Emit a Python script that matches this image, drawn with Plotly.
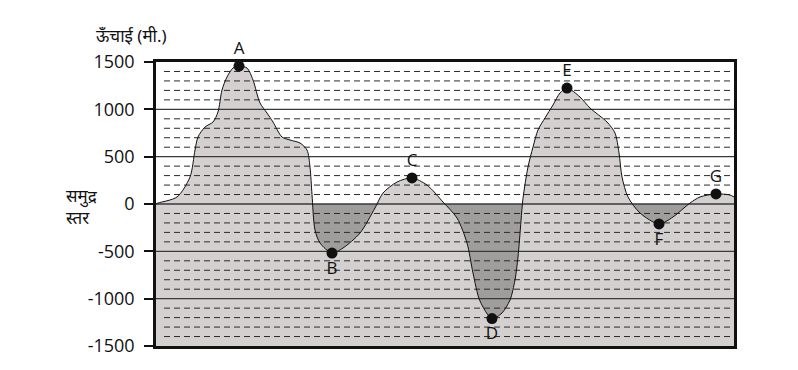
import plotly.graph_objects as go

# ---- data (distance along profile, elevation in metres) ----
dist = [0, 2, 21, 34, 39, 42, 49, 57, 62, 66, 71, 77, 83, 91, 97, 104, 111, 117, 126, 134,
        144, 151, 154, 156, 159, 164, 176, 187, 204, 219, 227, 241, 256, 271, 287, 301,
        311, 317, 324, 336, 346, 354, 359, 362, 365, 367, 372, 377, 382, 389, 397, 404,
        411, 424, 434, 451, 459, 463, 466, 472, 484, 503, 517, 534, 544, 560, 574, 578]
elev = [0, 10, 74, 285, 570, 708, 813, 866, 972, 1204, 1341, 1436, 1457, 1436, 1310, 1067,
        961, 866, 708, 676, 644, 570, 390, 100, -275, -412, -518, -465, -307, -42, 116,
        232, 275, 200, 21, -148, -412, -729, -1025, -1210, -1151, -1014, -803, -560, -180,
        60, 391, 602, 782, 909, 1046, 1173, 1225, 1130, 1014, 866, 750, 539, 285, 74, -95,
        -211, -137, 10, 74, 106, 95, 74]

point_labels = ["A", "B", "C", "D", "E", "F", "G"]
point_dist = [83, 176, 256, 336, 411, 503, 560]
point_elev = [1457, -518, 275, -1210, 1225, -211, 106]
label_pos = ["top center", "bottom center", "top center", "bottom center",
             "top center", "bottom center", "top center"]

major_ticks = [-1500, -1000, -500, 0, 500, 1000, 1500]
minor_ticks = [v for v in range(-1400, 1500, 100) if v % 500 != 0]

X_MIN, X_MAX = 0, 578
Y_MIN, Y_MAX = -1500, 1500

LIGHT = "#d4d0d0"
DARK = "#a09d9d"
FONT = "Open Sans, Noto Sans, sans-serif"

fig = go.Figure()

# base line at the bottom of the axis for the land fill
fig.add_trace(go.Scatter(x=[X_MIN, X_MAX], y=[Y_MIN, Y_MIN], mode="lines",
                         line=dict(width=0), hoverinfo="skip", showlegend=False))
# land: between terrain and bottom
fig.add_trace(go.Scatter(x=dist, y=elev, mode="lines", fill="tonexty",
                         fillcolor=LIGHT, line=dict(width=0, shape="spline", smoothing=0.8),
                         hoverinfo="skip", showlegend=False))

# minor dashed grid lines (drawn above fills)
gx, gy = [], []
for v in minor_ticks:
    gx += [X_MIN + 8, X_MAX - 4, None]
    gy += [v, v, None]
fig.add_trace(go.Scatter(x=gx, y=gy, mode="lines",
                         line=dict(color="#2a2a2a", width=1, dash="6px,4px"),
                         hoverinfo="skip", showlegend=False))
# major solid grid lines
mx, my = [], []
for v in major_ticks[1:-1]:
    mx += [X_MIN, X_MAX, None]
    my += [v, v, None]
fig.add_trace(go.Scatter(x=mx, y=my, mode="lines",
                         line=dict(color="#3a3a3a", width=1.3),
                         hoverinfo="skip", showlegend=False))

# terrain outline
fig.add_trace(go.Scatter(x=dist, y=elev, mode="lines",
                         line=dict(color="#111111", width=1, shape="spline", smoothing=0.8),
                         hoverinfo="skip", showlegend=False))

# labelled points
fig.add_trace(go.Scatter(x=point_dist, y=point_elev, mode="markers+text",
                         text=point_labels, textposition=label_pos, cliponaxis=False,
                         textfont=dict(family=FONT, size=17, color="#111"),
                         marker=dict(color="#111", size=11),
                         hoverinfo="skip", showlegend=False))

# sea (water) background below zero
fig.add_shape(type="rect", xref="x", yref="y", x0=X_MIN, x1=X_MAX, y0=Y_MIN, y1=0,
              fillcolor=DARK, line=dict(width=0), layer="below")

fig.add_annotation(text="ऊँचाई (मी.)", xref="paper", yref="paper", x=-0.107, y=1.092,
                   xanchor="left", yanchor="middle", showarrow=False,
                   font=dict(family="Noto Sans, sans-serif", size=17, color="#111"))
fig.add_annotation(text="समुद्र<br>स्तर", xref="paper", yref="y", x=-0.128, y=-25,
                   xanchor="center", yanchor="middle", showarrow=False, align="left",
                   font=dict(family="Noto Sans, sans-serif", size=17, color="#111"))

fig.update_xaxes(range=[X_MIN, X_MAX], showgrid=False, zeroline=False,
                 showticklabels=False, ticks="", showline=True, linewidth=2.5,
                 linecolor="#111", mirror=True)
fig.update_yaxes(range=[Y_MIN, Y_MAX], tickvals=major_ticks,
                 ticktext=[str(v) for v in major_ticks],
                 showgrid=False, zeroline=False, ticks="outside", ticklen=9,
                 tickwidth=1.5, tickcolor="#111", showline=True, linewidth=2.5,
                 linecolor="#111", mirror=True, ticklabelstandoff=6,
                 tickfont=dict(family=FONT, size=18, color="#111"))

fig.update_layout(width=798, height=370, margin=dict(l=156, r=64, t=62, b=24),
                  paper_bgcolor="white", plot_bgcolor="white", showlegend=False)

fig.write_html("out.html")
